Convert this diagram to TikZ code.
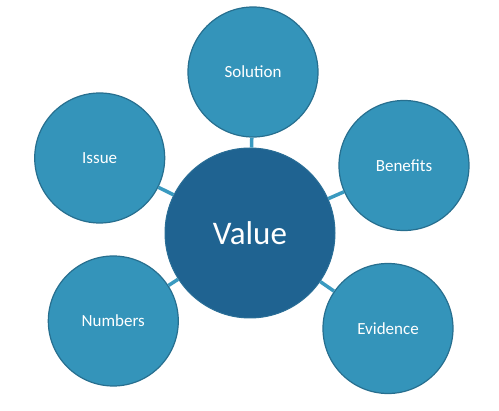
\documentclass[tikz,border=0pt]{standalone}
\usepackage{fontspec}
\setmainfont{Carlito}
\usetikzlibrary{positioning}

\definecolor{hubfill}{HTML}{1F6391}
\definecolor{hubline}{HTML}{2A6E96}
\definecolor{petalfill}{HTML}{3494BA}
\definecolor{petalline}{HTML}{276F8F}
\definecolor{linkcol}{HTML}{3A9AC0}

\begin{document}
\begin{tikzpicture}[
    x=1pt,y=-1pt,
    hub/.style={circle,draw=hubline,fill=hubfill,line width=1pt,minimum size=170pt,inner sep=0pt,text=white,font=\fontsize{33}{36}\selectfont},
    petal/.style={circle,draw=petalline,fill=petalfill,line width=1.2pt,minimum size=130pt,inner sep=0pt,text=white,font=\fontsize{17}{20}\selectfont},
    link/.style={draw=linkcol,line width=3.5pt}
]
\useasboundingbox (0,0) rectangle (499,411);

\node[hub] (value) at (250,233) {Value};
\node[petal] (solution) at (253,72) {Solution};
\node[petal] (benefits) at (404,165.5) {Benefits};
\node[petal] (evidence) at (388,328.5) {Evidence};
\node[petal] (numbers) at (113.3,321) {Numbers};
\node[petal] (issue) at (99.7,158) {Issue};
\draw[link] (value) -- (solution);
\draw[link] (value) -- (benefits);
\draw[link] (value) -- (evidence);
\draw[link] (value) -- (numbers);
\draw[link] (value) -- (issue);
\end{tikzpicture}
\end{document}
